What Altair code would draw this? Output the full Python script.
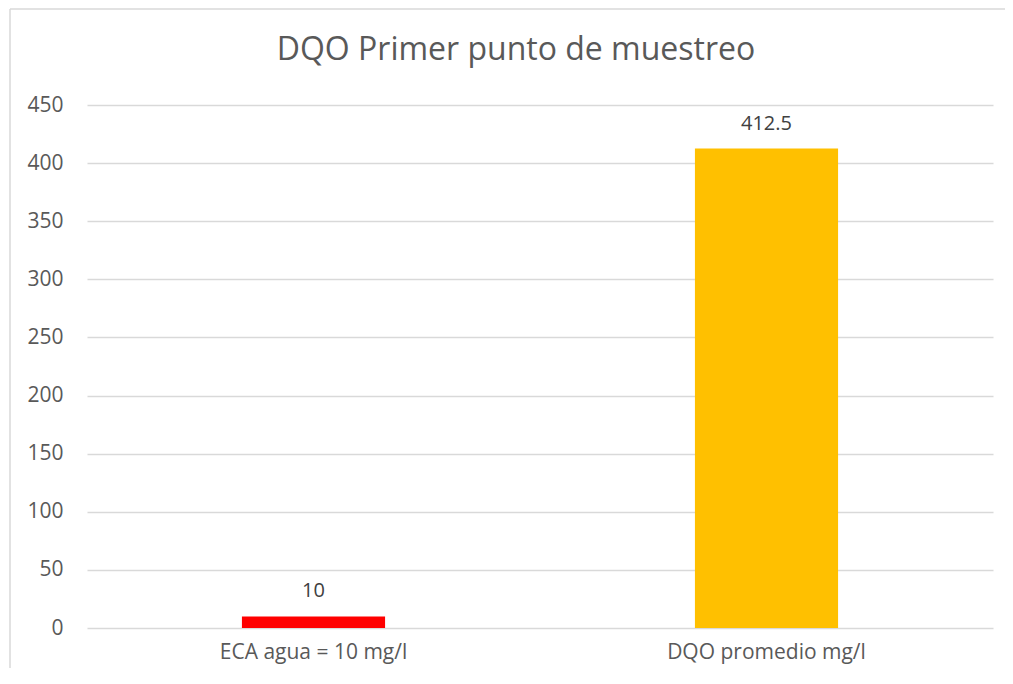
import altair as alt
import pandas as pd

categories = ["ECA agua = 10 mg/l", "DQO promedio mg/l"]
values = [10, 412.5]
labels = ["10", "412.5"]
colors = ["#FF0000", "#FFC000"]
title_text = "DQO Primer punto de muestreo"
y_ticks = [0, 50, 100, 150, 200, 250, 300, 350, 400, 450]

df = pd.DataFrame({"cat": categories, "val": values, "lab": labels, "col": colors})

FONT = "Open Sans"
W, H = 906, 523

x_enc = alt.X("cat:N", sort=categories, title=None,
              scale=alt.Scale(paddingInner=0.684, paddingOuter=0.342),
              axis=alt.Axis(labelAngle=0, labelFontSize=21, labelColor="#595959",
                            labelFont=FONT, ticks=False, domain=False, labelPadding=13,
                            grid=False, labelLimit=0))
y_enc = alt.Y("val:Q", title=None,
              scale=alt.Scale(domain=[0, 450], nice=False),
              axis=alt.Axis(values=y_ticks, labelFontSize=21, labelColor="#595959",
                            labelFont=FONT, ticks=False, domain=False, labelPadding=24,
                            gridColor="#D9D9D9", gridWidth=1.3))

bars = alt.Chart(df).mark_bar().encode(
    x=x_enc, y=y_enc,
    color=alt.Color("col:N", scale=None),
)

text = alt.Chart(df).mark_text(fontSize=20, font=FONT, color="#404040",
                               baseline="alphabetic", dy=-19).encode(
    x=alt.X("cat:N", sort=categories), y="val:Q", text="lab:N")

one = pd.DataFrame({"a": [0]})
border_top = alt.Chart(one).mark_rule(stroke="#D9D9D9", strokeWidth=1.5).encode(
    x=alt.value(-77), x2=alt.value(W + 12), y=alt.value(-96))
border_left = alt.Chart(one).mark_rule(stroke="#D9D9D9", strokeWidth=1.5).encode(
    x=alt.value(-77), y=alt.value(-96), y2=alt.value(H + 40))

title = alt.Chart(one).mark_text(fontSize=32, font=FONT, color="#595959",
                                 baseline="alphabetic", align="center").encode(
    x=alt.value(429), y=alt.value(-45), text=alt.value(title_text))

chart = alt.layer(border_top, border_left, bars, text, title).properties(
    width=W, height=H,
    background="white",
    autosize=alt.AutoSizeParams(type="none"),
    padding={"left": 79, "top": 97, "right": 12, "bottom": 40},
).configure_view(stroke="transparent", strokeWidth=0)

chart.save("out.html", embed_options={"renderer": "svg", "actions": False})
